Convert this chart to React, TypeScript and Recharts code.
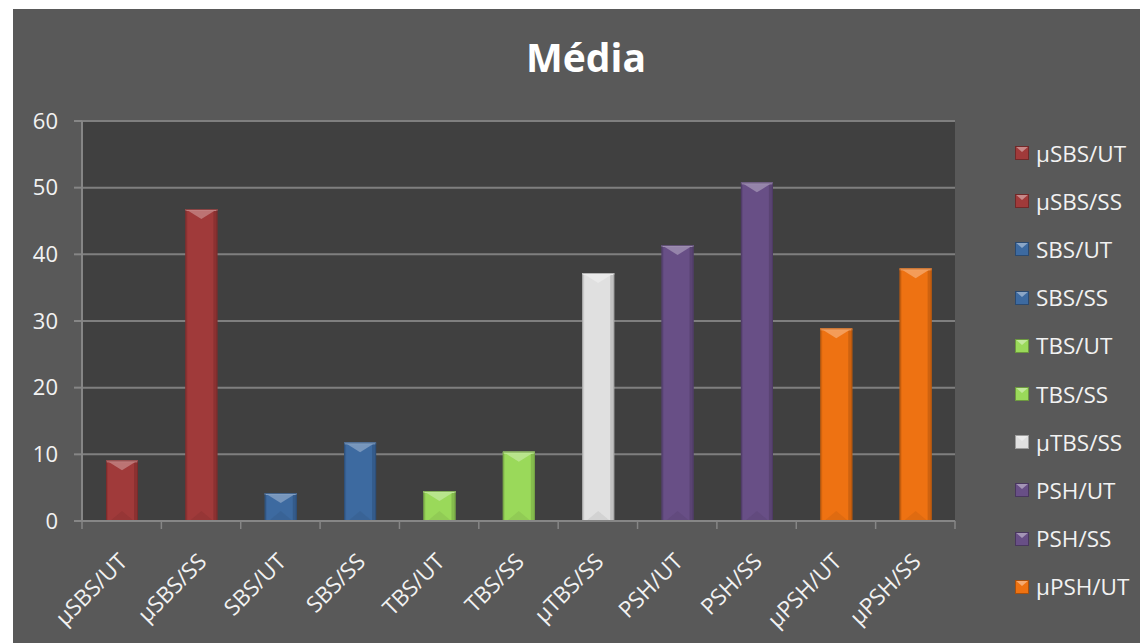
import React from 'react';
import { BarChart, Bar, XAxis, YAxis, CartesianGrid, Cell, Legend } from 'recharts';

const categories = ['µSBS/UT', 'µSBS/SS', 'SBS/UT', 'SBS/SS', 'TBS/UT', 'TBS/SS', 'µTBS/SS', 'PSH/UT', 'PSH/SS', 'µPSH/UT', 'µPSH/SS'];
const values = [9.1, 46.8, 4.2, 11.8, 4.5, 10.4, 37.2, 41.4, 50.8, 28.9, 37.9];
const colors = ['#a03a3a', '#a03a3a', '#3d6aa0', '#3d6aa0', '#9ad95a', '#9ad95a', '#e0e0e0', '#684f86', '#684f86', '#ee7212', '#ee7212'];
const legendCount = 10; // the original legend is cut off after the tenth entry
const yTicks = [0, 10, 20, 30, 40, 50, 60];
const title = 'Média';

const data = categories.map((name, i) => ({ name, value: values[i], color: colors[i] }));

const FONT = '"Open Sans", sans-serif';
const TEXT = '#f2f2f2';

function mix(hex: string, target: number, t: number) {
  const n = parseInt(hex.slice(1), 16);
  const r = (n >> 16) & 255, g = (n >> 8) & 255, b = n & 255;
  const f = (c: number) => Math.round(c + (target - c) * t);
  return `rgb(${f(r)},${f(g)},${f(b)})`;
}

function BevelBar(props: any) {
  const { x, y, width: w, height: h, fill } = props;
  if (!h || h <= 0) return null;
  const light = mix(fill, 255, 0.35);
  const dark = mix(fill, 0, 0.3);
  const b = Math.min(10, h / 2);
  return (
    <g>
      <rect x={x} y={y} width={w} height={h} fill={fill} />
      <rect x={x + w - 4} y={y} width={4} height={h} fill={dark} opacity={0.45} />
      <rect x={x} y={y} width={2} height={h} fill={dark} opacity={0.25} />
      <polygon points={`${x + w / 2},${y + h} ${x + 4},${y + h} ${x + w / 2},${y + h - b} ${x + w - 4},${y + h}`} fill={dark} opacity={0.2} />
      <polygon points={`${x},${y} ${x + w},${y} ${x + w / 2},${y + b}`} fill={light} opacity={0.85} />
      <rect x={x} y={y} width={w} height={2} fill={light} />
      <rect x={x + 0.5} y={y + 0.5} width={w - 1} height={h - 1} fill="none" stroke={dark} strokeWidth={1} opacity={0.7} />
    </g>
  );
}

function XTick(props: any) {
  const { x, y, payload, index } = props;
  const half = payload && payload.offset ? payload.offset : 873 / 22;
  const last = index === categories.length - 1;
  const px = x + 7;
  const py = y + 42;
  return (
    <g>
      <line x1={x - half} y1={y} x2={x - half} y2={y + 8} stroke="#868686" strokeWidth={1.5} />
      {last && <line x1={x + half} y1={y} x2={x + half} y2={y + 8} stroke="#868686" strokeWidth={1.5} />}
      <text x={px} y={py} textAnchor="end" fill={TEXT} fontSize={22.5} fontFamily={FONT} transform={`rotate(-45, ${px}, ${py})`}>
        {payload.value}
      </text>
    </g>
  );
}

function LegendSwatch({ color }: { color: string }) {
  const light = mix(color, 255, 0.4);
  const dark = mix(color, 0, 0.3);
  return (
    <svg width={14} height={14} style={{ display: 'block' }}>
      <rect x={0} y={0} width={14} height={14} fill={color} />
      <polygon points="0,0 14,0 7,6" fill={light} />
      <rect x={0.5} y={0.5} width={13} height={13} fill="none" stroke={dark} />
    </svg>
  );
}

function LegendContent() {
  return (
    <div style={{ fontFamily: FONT }}>
      {data.slice(0, legendCount).map((d) => (
        <div key={d.name} style={{ height: 48.2, display: 'flex', alignItems: 'center' }}>
          <LegendSwatch color={d.color} />
          <span style={{ marginLeft: 7, color: TEXT, fontSize: 22.5, whiteSpace: 'nowrap' }}>{d.name}</span>
        </div>
      ))}
    </div>
  );
}

export default function App() {
  return (
    <div style={{ position: 'absolute', left: 13, top: 9, width: 1127, height: 634, background: '#595959' }}>
      <div style={{ position: 'absolute', left: 0, top: 21, width: 1146, textAlign: 'center', color: '#ffffff', fontFamily: FONT, fontWeight: 700, fontSize: 39 }}>
        {title}
      </div>
      <BarChart width={1127} height={634} data={data} margin={{ top: 112, right: 185, bottom: 0, left: 0 }}>
        <CartesianGrid vertical={false} fill="#404040" stroke="#7f7f7f" strokeWidth={2} fillOpacity={1} />
        <XAxis dataKey="name" height={122} interval={0} tickLine={false} tickSize={0} tickMargin={0} axisLine={{ stroke: '#868686', strokeWidth: 2 }} tick={<XTick />} />
        <YAxis width={69} domain={[0, 60]} ticks={yTicks} tickSize={8} tickMargin={16} tickLine={{ stroke: '#868686', strokeWidth: 2 }} axisLine={{ stroke: '#868686', strokeWidth: 2 }} tick={{ fill: TEXT, fontSize: 22, fontFamily: FONT }} />
        <Legend layout="vertical" align="center" verticalAlign="middle" wrapperStyle={{ position: 'absolute', left: 1002, top: 120, width: 125 }} content={<LegendContent />} />
        <Bar dataKey="value" barSize={32} isAnimationActive={false} shape={<BevelBar />}>
          {data.map((d) => (
            <Cell key={d.name} fill={d.color} />
          ))}
        </Bar>
      </BarChart>
    </div>
  );
}
